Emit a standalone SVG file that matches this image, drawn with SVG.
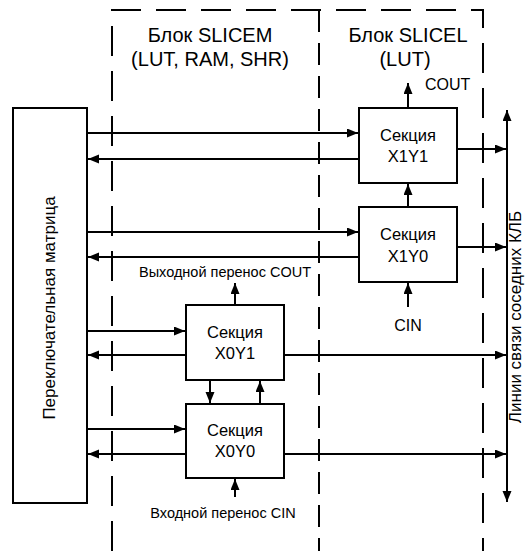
<svg xmlns="http://www.w3.org/2000/svg" width="525" height="551" viewBox="0 0 525 551">
<style>
  .box{fill:#fff;stroke:#000;stroke-width:2}
  .ln{fill:none;stroke:#000;stroke-width:2}
  .dash{fill:none;stroke:#000;stroke-width:2;stroke-dasharray:30 15}
  .dash2{fill:none;stroke:#000;stroke-width:2;stroke-dasharray:22 11}
  text{font-family:"Liberation Sans",Arial,sans-serif;fill:#000}
  .hdr{font-size:20px;text-anchor:middle}
  .sec{font-size:16.5px;text-anchor:middle}
  .lbl{font-size:16px}
  .sm{font-size:14.5px;text-anchor:middle}
  .rot{font-size:17px;text-anchor:middle}
</style>
<defs>
  <marker id="ah" markerUnits="userSpaceOnUse" markerWidth="12" markerHeight="10" refX="11" refY="4.5" orient="auto-start-reverse">
    <path d="M0,0 L11,4.5 L0,9 z" fill="#000"/>
  </marker>
</defs>

<g id="borders">
  <path class="dash" d="M112,551 V10 H483 V551"/>
  <path class="dash2" d="M319,10 V551"/>
</g>

<g id="headers">
  <text class="hdr" x="210" y="42">Блок SLICEM</text>
  <text class="hdr" x="210" y="66">(LUT, RAM, SHR)</text>
  <text class="hdr" x="408" y="42">Блок SLICEL</text>
  <text class="hdr" x="405" y="66">(LUT)</text>
</g>

<g id="connectors">
  <!-- X1Y1 -->
  <line class="ln" x1="87" y1="133" x2="358" y2="133" marker-end="url(#ah)"/>
  <line class="ln" x1="359" y1="159" x2="88" y2="159" marker-end="url(#ah)"/>
  <line class="ln" x1="457" y1="149" x2="506" y2="149" marker-end="url(#ah)"/>
  <line class="ln" x1="408" y1="108" x2="408" y2="83" marker-end="url(#ah)"/>
  <!-- X1Y0 -->
  <line class="ln" x1="87" y1="232" x2="358" y2="232" marker-end="url(#ah)"/>
  <line class="ln" x1="359" y1="257" x2="88" y2="257" marker-end="url(#ah)"/>
  <line class="ln" x1="457" y1="247" x2="506" y2="247" marker-end="url(#ah)"/>
  <line class="ln" x1="408" y1="207" x2="408" y2="184" marker-end="url(#ah)"/>
  <line class="ln" x1="408" y1="307" x2="408" y2="283" marker-end="url(#ah)"/>
  <!-- X0Y1 -->
  <line class="ln" x1="87" y1="331" x2="185" y2="331" marker-end="url(#ah)"/>
  <line class="ln" x1="186" y1="355" x2="88" y2="355" marker-end="url(#ah)"/>
  <line class="ln" x1="284" y1="355" x2="506" y2="355" marker-end="url(#ah)"/>
  <line class="ln" x1="235" y1="305" x2="235" y2="283" marker-end="url(#ah)"/>
  <line class="ln" x1="210" y1="380" x2="210" y2="403" marker-end="url(#ah)"/>
  <line class="ln" x1="260" y1="404" x2="260" y2="381" marker-end="url(#ah)"/>
  <!-- X0Y0 -->
  <line class="ln" x1="87" y1="429" x2="185" y2="429" marker-end="url(#ah)"/>
  <line class="ln" x1="186" y1="454" x2="88" y2="454" marker-end="url(#ah)"/>
  <line class="ln" x1="284" y1="454" x2="506" y2="454" marker-end="url(#ah)"/>
  <line class="ln" x1="235" y1="497" x2="235" y2="479" marker-end="url(#ah)"/>
  <!-- bus -->
  <line class="ln" x1="507" y1="110" x2="507" y2="502" marker-start="url(#ah)" marker-end="url(#ah)"/>
</g>

<g id="matrix">
  <rect class="box" x="13" y="108" width="74" height="395"/>
  <text class="rot" transform="translate(55,308) rotate(-90)">Переключательная матрица</text>
</g>

<g id="x1y1">
  <rect class="box" x="359" y="108" width="98" height="75"/>
  <text class="sec" x="408" y="141">Секция</text>
  <text class="sec" x="408" y="162">X1Y1</text>
</g>
<g id="x1y0">
  <rect class="box" x="359" y="207" width="98" height="75"/>
  <text class="sec" x="408" y="240">Секция</text>
  <text class="sec" x="408" y="262">X1Y0</text>
</g>
<g id="x0y1">
  <rect class="box" x="186" y="305" width="98" height="75"/>
  <text class="sec" x="235" y="338">Секция</text>
  <text class="sec" x="235" y="359">X0Y1</text>
</g>
<g id="x0y0">
  <rect class="box" x="186" y="404" width="98" height="74"/>
  <text class="sec" x="235" y="436">Секция</text>
  <text class="sec" x="235" y="457">X0Y0</text>
</g>

<g id="labels">
  <text class="lbl" x="425" y="90">COUT</text>
  <text class="lbl" x="408" y="331" text-anchor="middle">CIN</text>
  <text class="sm" x="225" y="277">Выходной перенос COUT</text>
  <text class="sm" x="223" y="518">Входной перенос CIN</text>
  <text class="rot" transform="translate(521,317) rotate(-90)">Линии связи соседних КЛБ</text>
</g>
</svg>
